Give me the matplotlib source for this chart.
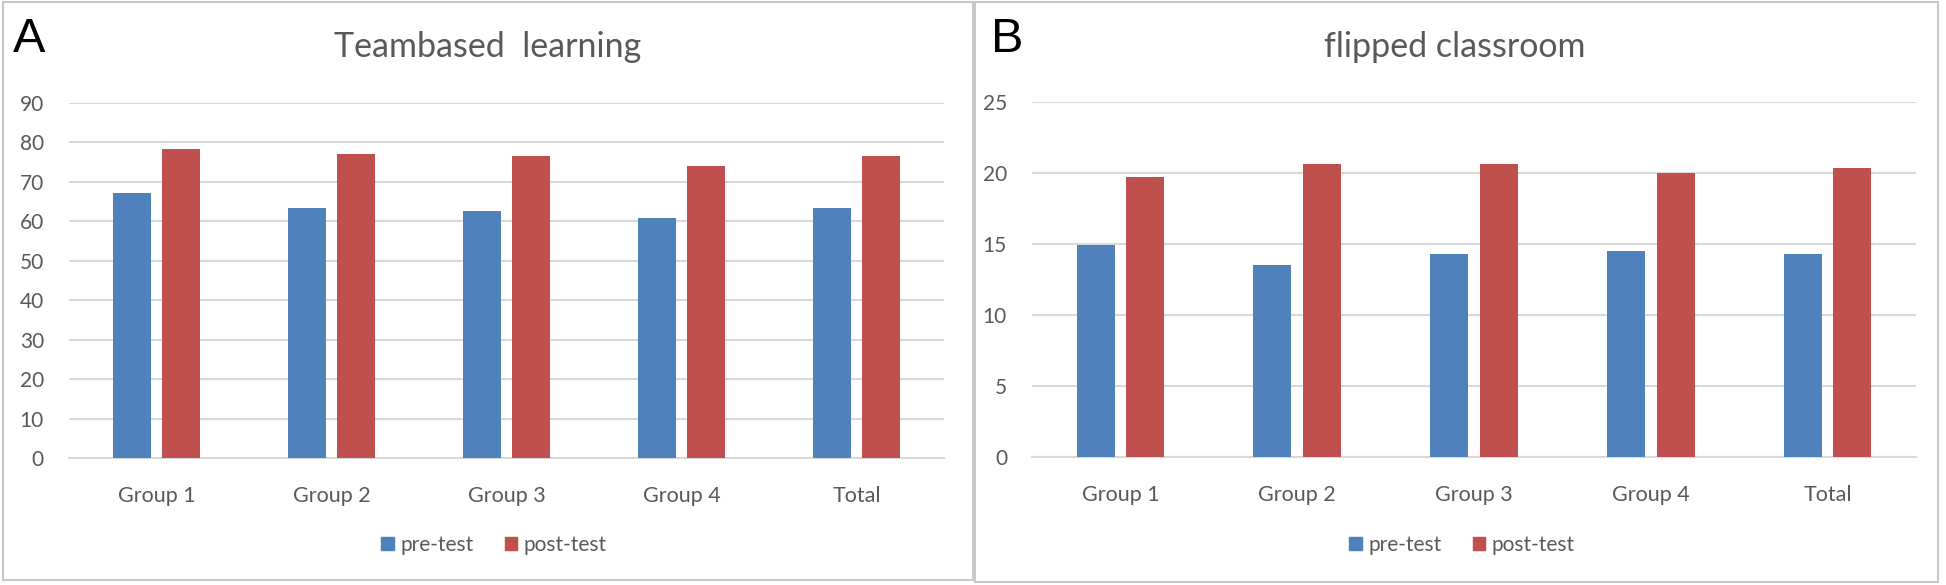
import numpy as np
from matplotlib import pyplot as plt
from matplotlib.patches import Rectangle, Patch
import matplotlib

matplotlib.rcParams["font.family"] = ["Lato", "DejaVu Sans"]

categories = ["Group 1", "Group 2", "Group 3", "Group 4", "Total"]
series_names = ["pre-test", "post-test"]

tbl_pre = [67.1, 63.4, 62.5, 60.9, 63.5]
tbl_post = [78.4, 77.1, 76.5, 74.0, 76.5]

flip_pre = [14.9, 13.5, 14.25, 14.5, 14.25]
flip_post = [19.7, 20.6, 20.6, 20.0, 20.3]

BLUE = "#4F81BD"
RED = "#C0504D"
GRID = "#D9D9D9"
TEXT = "#595959"

W, H = 1946, 585
fig = plt.figure(figsize=(W / 100, H / 100), dpi=100)


def px_axes(x0, x1, ytop, ybot):
    return fig.add_axes([x0 / W, 1 - ybot / H, (x1 - x0) / W, (ybot - ytop) / H])


def drawPanel(ax, pre, post, ymax, ystep, title, title_x, letter, letter_x, leg_x):
    x = np.arange(len(categories))
    bw = 0.215
    off = 0.14
    ax.bar(x - off, pre, bw, color=BLUE, zorder=3)
    ax.bar(x + off, post, bw, color=RED, zorder=3)
    ax.set_xlim(-0.5, len(categories) - 0.5)
    ax.set_ylim(0, ymax)
    ax.set_yticks(np.arange(0, ymax + 0.1, ystep))
    ax.yaxis.grid(True, color=GRID, lw=1.5, zorder=0)
    ax.set_xticks(x)
    ax.set_xticklabels(categories)
    for s in ["top", "right", "left"]:
        ax.spines[s].set_visible(False)
    ax.spines["bottom"].set_color(GRID)
    ax.spines["bottom"].set_linewidth(1.5)
    ax.tick_params(axis="both", length=0, labelsize=15, colors=TEXT)
    ax.tick_params(axis="x", pad=20, labelsize=15.5)
    ax.tick_params(axis="y", pad=18)
    fig.text(title_x / W, 1 - 47 / H, title, ha="center", va="center",
             fontsize=24.5, color=TEXT)
    fig.text(letter_x / W, 1 - 40 / H, letter, ha="left", va="center",
             fontsize=35, color="black", family="Liberation Sans")
    handles = [Patch(color=BLUE), Patch(color=RED)]
    fig.legend(handles, series_names, loc="center", bbox_to_anchor=(leg_x / W, 1 - 545 / H),
               ncol=2, frameon=False, fontsize=15, handlelength=0.6, handleheight=0.6,
               handletextpad=0.3, columnspacing=1.5, labelcolor=TEXT)


# panel frames
fig.patches.append(Rectangle((3 / W, 1 - 580 / H), 970 / W, 578 / H, transform=fig.transFigure,
                             fill=False, edgecolor="#C8C8C8", lw=1.5))
fig.patches.append(Rectangle((975 / W, 1 - 582 / H), 963 / W, 580 / H, transform=fig.transFigure,
                             fill=False, edgecolor="#C8C8C8", lw=1.5))

axA = px_axes(69, 944, 103, 458)
drawPanel(axA, tbl_pre, tbl_post, 90, 10, "Teambased  learning", 488, "A", 13, 494)

axB = px_axes(1032, 1916, 101.5, 457)
drawPanel(axB, flip_pre, flip_post, 25, 5, "flipped classroom", 1455, "B", 991, 1462)

plt.savefig("out.png", dpi=100)
plt.close()
